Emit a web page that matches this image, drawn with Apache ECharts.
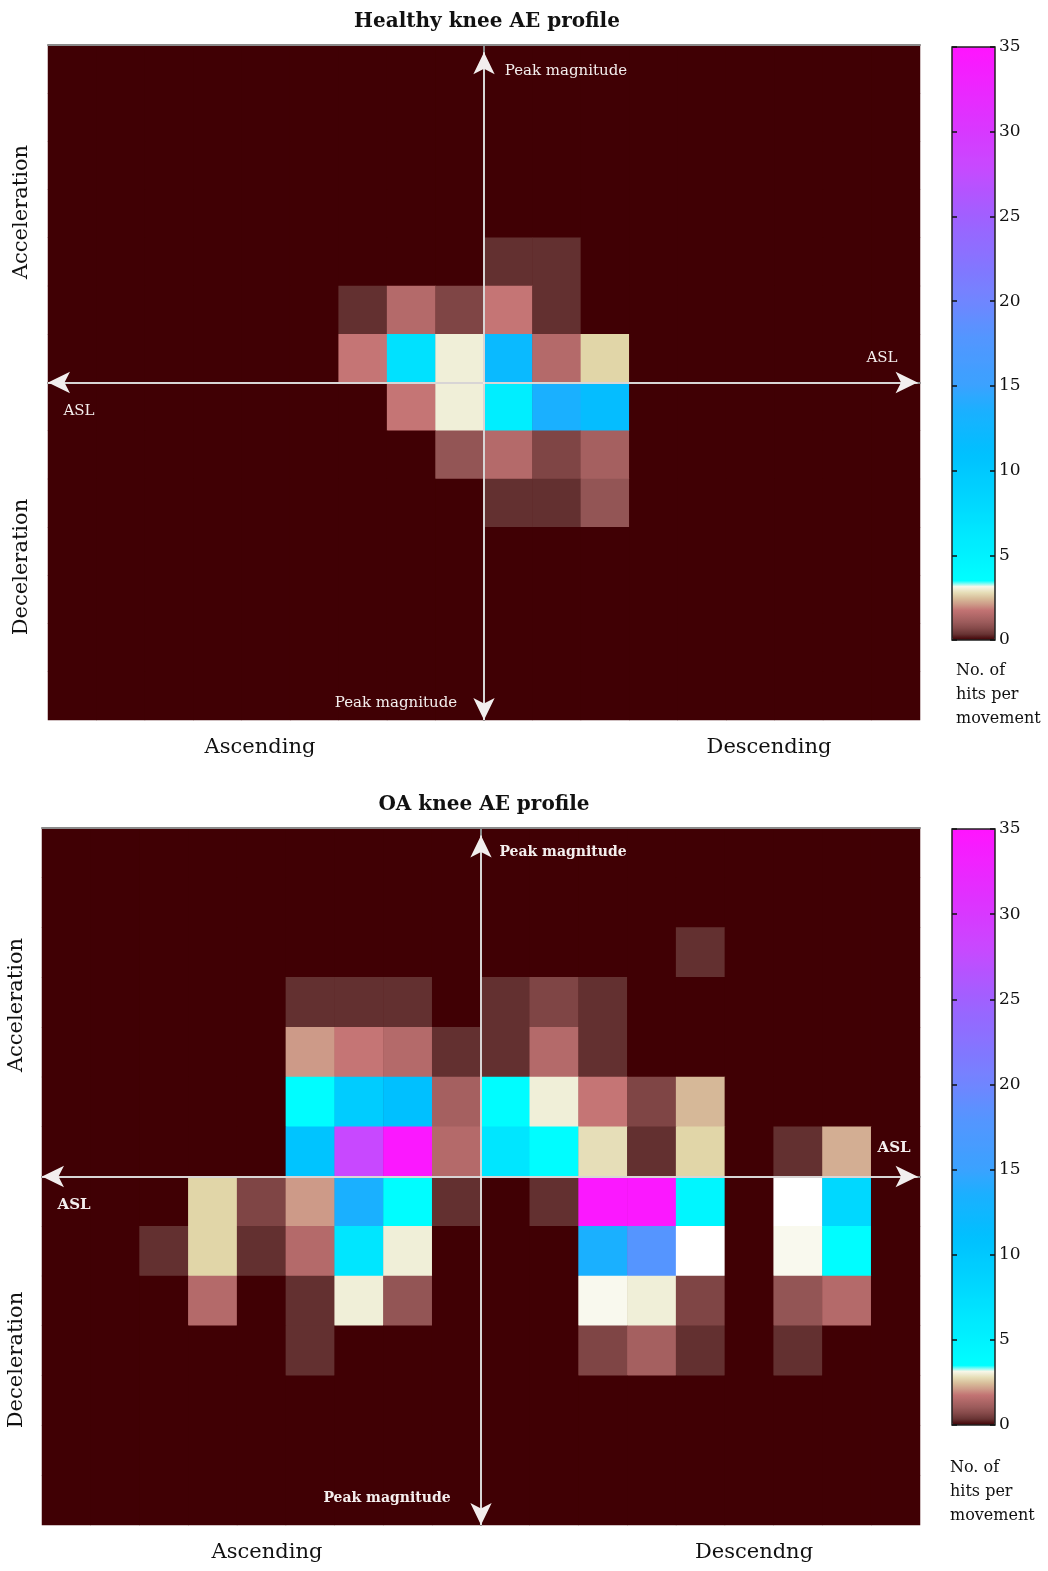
<!DOCTYPE html>
<html><head><meta charset="utf-8">
<script src="https://cdn.jsdelivr.net/npm/echarts@6/dist/echarts.min.js"></script>
<style>html,body{margin:0;padding:0;background:#fff}#c{width:1048px;height:1571px}</style>
</head><body><div id="c"></div>
<script>
// ---- data: hits per movement, rows top (acceleration) -> bottom (deceleration), cols left (ascending) -> right (descending)
const healthyRows = [
  [0,0,0,0,0,0,0,0,0,0,0,0,0,0,0,0,0,0],
  [0,0,0,0,0,0,0,0,0,0,0,0,0,0,0,0,0,0],
  [0,0,0,0,0,0,0,0,0,0,0,0,0,0,0,0,0,0],
  [0,0,0,0,0,0,0,0,0,0,0,0,0,0,0,0,0,0],
  [0,0,0,0,0,0,0,0,0,0.3,0.3,0,0,0,0,0,0,0],
  [0,0,0,0,0,0,0.3,1.5,0.6,1.8,0.3,0,0,0,0,0,0,0],
  [0,0,0,0,0,0,1.8,7,3.0,12,1.5,2.7,0,0,0,0,0,0],
  [0,0,0,0,0,0,0,1.8,3.0,5.5,13.5,11.5,0,0,0,0,0,0],
  [0,0,0,0,0,0,0,0,0.9,1.5,0.6,1.2,0,0,0,0,0,0],
  [0,0,0,0,0,0,0,0,0,0.3,0.3,0.9,0,0,0,0,0,0],
  [0,0,0,0,0,0,0,0,0,0,0,0,0,0,0,0,0,0],
  [0,0,0,0,0,0,0,0,0,0,0,0,0,0,0,0,0,0],
  [0,0,0,0,0,0,0,0,0,0,0,0,0,0,0,0,0,0],
  [0,0,0,0,0,0,0,0,0,0,0,0,0,0,0,0,0,0]
];
const oaRows = [
  [0,0,0,0,0,0,0,0,0,0,0,0,0,0,0,0,0,0],
  [0,0,0,0,0,0,0,0,0,0,0,0,0,0,0,0,0,0],
  [0,0,0,0,0,0,0,0,0,0,0,0,0,0.3,0,0,0,0],
  [0,0,0,0,0,0.3,0.3,0.3,0,0.3,0.6,0.3,0,0,0,0,0,0],
  [0,0,0,0,0,2.1,1.8,1.5,0.3,0.3,1.5,0.3,0,0,0,0,0,0],
  [0,0,0,0,0,3.6,9.5,11,1.2,3.6,3.0,1.8,0.6,2.4,0,0,0,0],
  [0,0,0,0,0,10.5,28,34.5,1.5,6.5,3.6,2.8,0.3,2.7,0,0.3,2.3,0],
  [0,0,0,2.7,0.6,2.1,13.5,3.6,0.3,0,0.3,34.5,34.5,4.5,0,3.3,8,0],
  [0,0,0.3,2.7,0.3,1.5,6.5,3.0,0,0,0,13.5,18,3.3,0,3.2,3.6,0],
  [0,0,0,1.5,0,0.3,3.0,0.9,0,0,0,3.2,3.0,0.6,0,0.9,1.5,0],
  [0,0,0,0,0,0.3,0,0,0,0,0,0.6,1.2,0.3,0,0.3,0,0],
  [0,0,0,0,0,0,0,0,0,0,0,0,0,0,0,0,0,0],
  [0,0,0,0,0,0,0,0,0,0,0,0,0,0,0,0,0,0],
  [0,0,0,0,0,0,0,0,0,0,0,0,0,0,0,0,0,0]
];
const colorbarMin = 0, colorbarMax = 35, colorbarStep = 5;
const panelTitles = ['Healthy knee AE profile', 'OA knee AE profile'];
const descendingLabels = ['Descending', 'Descendng'];

// ---- colormap (pink ramp up to ~3.3, then cyan -> magenta)
const cmapStops = [
  [0,'#400004'],[0.3,'#633030'],[0.6,'#7f4545'],[0.9,'#935555'],[1.2,'#a56060'],
  [1.5,'#b46a6a'],[1.8,'#c57575'],[2.1,'#cd9a88'],[2.4,'#d6b898'],[2.7,'#e1d6a8'],
  [3.0,'#f0efd8'],[3.2,'#f9f9ee'],[3.3,'#ffffff'],[3.4,'#00ffff'],[5,'#00f2ff'],
  [6.5,'#00e6ff'],[8,'#00d8ff'],[9.5,'#00ccff'],[11,'#00c0ff'],[13.5,'#1ab0ff'],
  [15,'#3aa2ff'],[18,'#5595ff'],[20,'#7085ff'],[25,'#a060ff'],[28,'#c848ff'],
  [30,'#d838ff'],[35,'#ff14ff']
];
function hex2rgb(h){return [1,3,5].map(i=>parseInt(h.substr(i,2),16));}
function cmapAt(v){
  for(let i=0;i<cmapStops.length-1;i++){
    const [a,ca]=cmapStops[i],[b,cb]=cmapStops[i+1];
    if(v<=b+1e-9){const t=Math.max(0,Math.min(1,(v-a)/(b-a)));const A=hex2rgb(ca),B=hex2rgb(cb);
      return 'rgb('+A.map((x,k)=>Math.round(x+(B[k]-x)*t)).join(',')+')';}
  }
  return cmapStops[cmapStops.length-1][1];
}
const cmap=[];for(let i=0;i<=350;i++)cmap.push(cmapAt(i/10));

function toData(rows){const out=[];rows.forEach((r,y)=>r.forEach((v,x)=>out.push([x,y,v])));return out;}
const colCats=healthyRows[0].map((_,i)=>String(i));
const rowCats=healthyRows.map((_,i)=>String(i));

const FONT='DejaVu Serif';
const P=[
  {left:48,top:45,width:872,height:675,cbTop:47,cbH:593},
  {left:42,top:828,width:878,height:697,cbTop:829,cbH:596}
];
const grids=[],xAxes=[],yAxes=[],series=[],visualMaps=[],graphics=[];
P.forEach((p,k)=>{
  grids.push({left:p.left,top:p.top,width:p.width,height:p.height,containLabel:false,show:true,backgroundColor:cmapStops[0][1],borderWidth:0});
});
P.forEach((p,k)=>{
  grids.push({left:952,top:p.cbTop,width:43,height:p.cbH,show:true,backgroundColor:'transparent',borderColor:'#222',borderWidth:1.5,z:8});
});
const gray={show:true,lineStyle:{color:'#8a8a8a',width:2}};
P.forEach((p,k)=>{
  xAxes.push({type:'category',gridIndex:k,data:colCats,axisLine:gray,axisTick:{show:false},axisLabel:{show:false},splitLine:{show:false},z:4});
  xAxes.push({type:'value',gridIndex:k,min:-9,max:9,position:'top',axisLine:gray,axisTick:{show:false},axisLabel:{show:false},splitLine:{show:false},z:4});
  yAxes.push({type:'category',gridIndex:k,data:rowCats,inverse:true,axisLine:gray,axisTick:{show:false},axisLabel:{show:false},splitLine:{show:false},z:4});
  yAxes.push({type:'value',gridIndex:k,min:-7,max:7,position:'right',show:false});
});
P.forEach((p,k)=>{
  const g=2+k;
  xAxes.push({type:'value',gridIndex:g,min:0,max:1,show:false});
  yAxes.push({type:'value',gridIndex:g,min:colorbarMin,max:colorbarMax,interval:colorbarStep,position:'left',z:9,
    axisLine:{show:false},axisTick:{show:true,inside:true,length:5,lineStyle:{color:'#111',width:1.5}},axisLabel:{show:false},splitLine:{show:false}});
  yAxes.push({type:'value',gridIndex:g,min:colorbarMin,max:colorbarMax,interval:colorbarStep,position:'right',z:9,
    axisLine:{show:false},axisTick:{show:true,inside:true,length:5,lineStyle:{color:'#111',width:1.5}},
    axisLabel:{show:true,margin:4,color:'#111',fontFamily:FONT,fontSize:17},splitLine:{show:false}});
});
[healthyRows,oaRows].forEach((rows,k)=>{
  series.push({type:'heatmap',name:panelTitles[k],xAxisIndex:2*k,yAxisIndex:2*k,data:toData(rows),
    itemStyle:{borderWidth:0},emphasis:{disabled:true},progressive:0,animation:false,z:2});
  series.push({type:'line',xAxisIndex:2*k+1,yAxisIndex:2*k+1,data:[[0,0]],showSymbol:false,symbolSize:0,
    lineStyle:{opacity:0},silent:true,animation:false,z:6,
    markLine:{silent:true,animation:false,symbol:['arrow','arrow'],symbolSize:[16,22],
      lineStyle:{color:'#f2eeee',width:1.5,type:'solid'},label:{show:false},emphasis:{disabled:true},
      data:[[{coord:[-9,0]},{coord:[8.95,0]}],[{coord:[0,-7]},{coord:[0,6.85]}]]}});
  visualMaps.push({type:'continuous',seriesIndex:2*k,min:colorbarMin,max:colorbarMax,calculable:false,hoverLink:false,
    left:952,top:P[k].cbTop,itemWidth:43,itemHeight:P[k].cbH,padding:0,text:null,showLabel:false,
    textStyle:{color:'transparent'},inRange:{color:cmap},z:4});
});

function txt(text,x,y,size,opts){
  return Object.assign({type:'text',x:x,y:y,z:50,style:Object.assign({text:text,fill:'#111',
    font:(opts&&opts.bold?'bold ':'')+size+'px "'+FONT+'"',align:'center',verticalAlign:'middle'},opts&&opts.style||{})},opts&&opts.el||{});
}
const W='#f4eeee';
// top panel
graphics.push(txt(panelTitles[0],487,22,20,{bold:true}));
graphics.push(txt('Peak magnitude',566,71,15,{style:{fill:W}}));
graphics.push(txt('Peak magnitude',396,703,15,{style:{fill:W}}));
graphics.push(txt('ASL',882,358,15,{style:{fill:W}}));
graphics.push(txt('ASL',79,411,15,{style:{fill:W}}));
graphics.push(txt('Acceleration',22,212,21,{el:{rotation:Math.PI/2}}));
graphics.push(txt('Deceleration',22,567,21,{el:{rotation:Math.PI/2}}));
graphics.push(txt('Ascending',260,748,21));
graphics.push(txt(descendingLabels[0],769,748,21));
graphics.push(txt('No. of\nhits per\nmovement',956,695,16,{style:{align:'left',lineHeight:24}}));
// bottom panel
graphics.push(txt(panelTitles[1],484,805,20,{bold:true}));
graphics.push(txt('Peak magnitude',563,852,14,{bold:true,style:{fill:W}}));
graphics.push(txt('Peak magnitude',387,1498,14,{bold:true,style:{fill:W}}));
graphics.push(txt('ASL',894,1148,15,{bold:true,style:{fill:W}}));
graphics.push(txt('ASL',74,1205,15,{bold:true,style:{fill:W}}));
graphics.push(txt('Acceleration',17,1005,21,{el:{rotation:Math.PI/2}}));
graphics.push(txt('Deceleration',17,1360,21,{el:{rotation:Math.PI/2}}));
graphics.push(txt('Ascending',267,1553,21));
graphics.push(txt(descendingLabels[1],754,1553,21));
graphics.push(txt('No. of\nhits per\nmovement',950,1492,16,{style:{align:'left',lineHeight:24}}));

const chart=echarts.init(document.getElementById('c'),null,{renderer:'canvas'});
chart.setOption({animation:false,backgroundColor:'#fff',grid:grids,xAxis:xAxes,yAxis:yAxes,series:series,visualMap:visualMaps,graphic:graphics});
</script></body></html>
